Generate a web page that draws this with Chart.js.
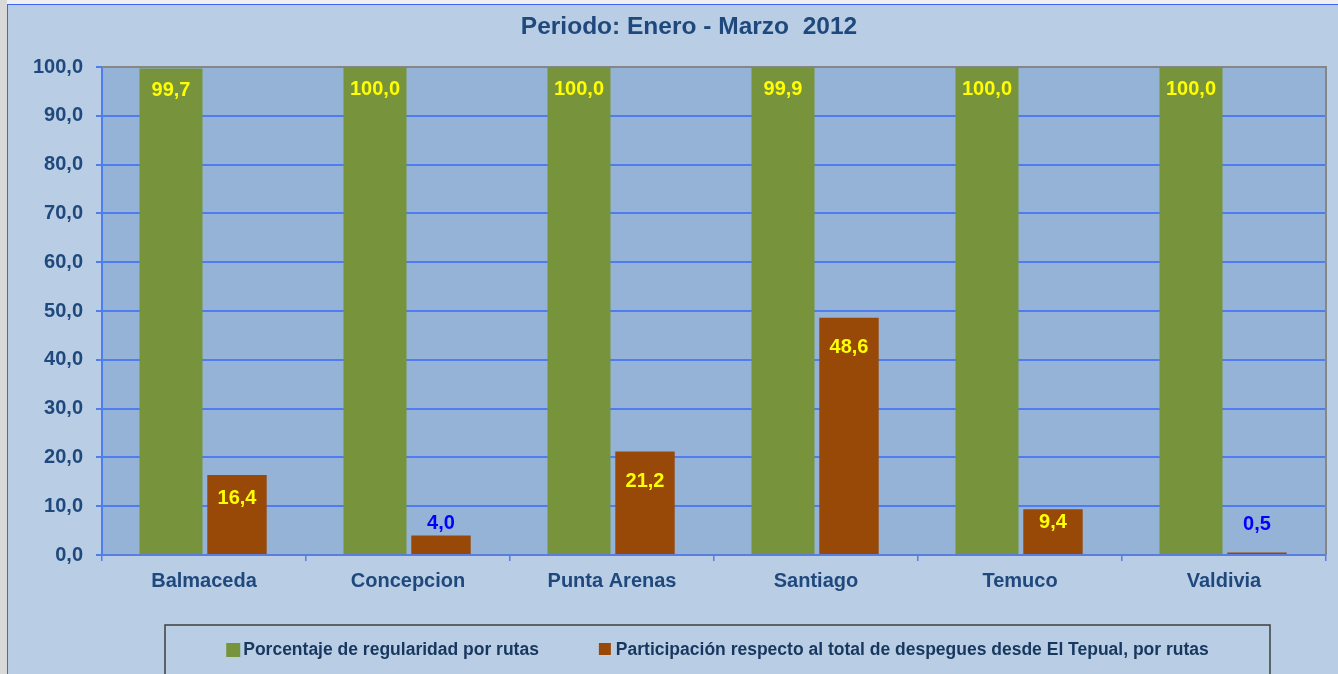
<!DOCTYPE html>
<html>
<head>
<meta charset="utf-8">
<script src="https://cdn.jsdelivr.net/npm/chart.js@4.4.1/dist/chart.umd.min.js"></script>
<style>
  html, body { margin: 0; padding: 0; width: 1338px; height: 674px; overflow: hidden; background: #F0F0F0; }
  #strip { position: absolute; left: 0; top: 0; width: 7px; height: 674px; background: #D9D9D9; }
  #frame { position: absolute; left: 7px; top: 4px; width: 1400px; height: 720px; background: #B9CDE5;
           border-top: 1px solid #3F63F2; border-left: 1px solid #3F63F2; }
  #c { position: absolute; left: 0; top: 0; }
</style>
</head>
<body>
<div id="strip"></div>
<div id="frame"><canvas id="c" width="1330" height="669"></canvas></div>
<script>
const titleText = 'Periodo: Enero - Marzo  2012';
const categories = ['Balmaceda', 'Concepcion', 'Punta Arenas', 'Santiago', 'Temuco', 'Valdivia'];
const seriesNames = ['Porcentaje de regularidad por rutas', 'Participación respecto al total de despegues desde El Tepual, por rutas'];
const regularidad = [99.7, 100.0, 100.0, 99.9, 100.0, 100.0];
const participacion = [16.4, 4.0, 21.2, 48.6, 9.4, 0.5];
const yTickLabels = ['0,0', '10,0', '20,0', '30,0', '40,0', '50,0', '60,0', '70,0', '80,0', '90,0', '100,0'];

const FONT = '"Liberation Sans", Arial, sans-serif';
const GREEN = '#77933C', ORANGE = '#984807';
const TEXT = '#1F497D';
const GRID = '#4F7CEE';

function fmt(v) { return v.toFixed(1).replace('.', ','); }

const framePlugin = {
  id: 'framePlugin',
  beforeDraw(chart) {
    const { ctx, chartArea: a } = chart;
    ctx.save();
    ctx.fillStyle = '#95B3D7';
    ctx.fillRect(a.left, a.top, a.right - a.left, a.bottom - a.top);
    ctx.restore();
  },
  beforeDatasetsDraw(chart) {
    const { ctx, chartArea: a } = chart;
    ctx.save();
    ctx.strokeStyle = '#868686';
    ctx.lineWidth = 2;
    ctx.beginPath();
    ctx.moveTo(a.left, a.top);
    ctx.lineTo(a.right, a.top);
    ctx.lineTo(a.right, a.bottom);
    ctx.stroke();
    ctx.restore();
  },
  afterDraw(chart) {
    const ctx = chart.ctx;
    ctx.save();
    // Title
    ctx.fillStyle = TEXT;
    ctx.font = 'bold 24.5px ' + FONT;
    ctx.textAlign = 'center';
    ctx.textBaseline = 'middle';
    ctx.fillText(titleText, 681, 22);
    // Legend box
    const bx = 157, by = 620, bw = 1105, bh = 60;
    ctx.strokeStyle = '#3F3F3F';
    ctx.lineWidth = 1.5;
    ctx.strokeRect(bx, by, bw, bh);
    ctx.font = 'bold 17.5px ' + FONT;
    ctx.textBaseline = 'alphabetic';
    ctx.textAlign = 'left';
    const colors = [GREEN, ORANGE];
    const sq = 14, gap = 3, spacing = 60;
    const widths = seriesNames.map(s => ctx.measureText(s).width);
    const total = sq + gap + widths[0] + spacing + sq + gap + widths[1];
    let x = bx + bw / 2 - total / 2;
    const baseline = 650;
    seriesNames.forEach((name, i) => {
      ctx.fillStyle = colors[i];
      ctx.fillRect(x, baseline - 12, sq - (i ? 2 : 0), sq - (i ? 2 : 0));
      x += sq + gap;
      ctx.fillStyle = '#17375E';
      ctx.fillText(name, x, baseline);
      x += widths[i] + spacing;
    });
    ctx.restore();
  }
};

const labelPlugin = {
  id: 'labelPlugin',
  afterDatasetsDraw(chart) {
    const ctx = chart.ctx;
    const yScale = chart.scales.y;
    ctx.save();
    ctx.font = 'bold 20px ' + FONT;
    ctx.textAlign = 'center';
    ctx.textBaseline = 'middle';
    chart.data.datasets.forEach((ds, di) => {
      const meta = chart.getDatasetMeta(di);
      meta.data.forEach((el, i) => {
        const v = ds.data[i];
        const h = el.base - el.y;
        let y, color;
        if (di === 0) {
          y = el.y + 22; color = '#FFFF00';
        } else if (v < 5) {
          y = yScale.getPixelForValue(Math.max(v, 3.8)) - 12; color = '#0000FF';
        } else {
          y = el.y + Math.min(30, h * 0.3); color = '#FFFF00';
        }
        ctx.fillStyle = color;
        ctx.fillText(fmt(v), el.x, y);
      });
    });
    ctx.restore();
  }
};

new Chart(document.getElementById('c'), {
  type: 'bar',
  data: {
    labels: categories,
    datasets: [
      { label: seriesNames[0], data: regularidad, backgroundColor: GREEN, categoryPercentage: 0.647, barPercentage: 0.955 },
      { label: seriesNames[1], data: participacion, backgroundColor: ORANGE, categoryPercentage: 0.647, barPercentage: 0.9 }
    ]
  },
  options: {
    responsive: false,
    animation: false,
    devicePixelRatio: 1,
    layout: { padding: { top: 62, right: 12, left: 0, bottom: 0 } },
    plugins: { legend: { display: false }, title: { display: false }, tooltip: { enabled: false } },
    scales: {
      x: {
        afterFit(s) { s.height = 119; },
        border: { display: true, color: '#5B7DE0', width: 2 },
        grid: { display: true, drawOnChartArea: false, drawTicks: true, tickLength: 6, color: GRID, lineWidth: 1.5 },
        ticks: { color: TEXT, font: { family: FONT, size: 20, weight: 'bold' }, padding: 8, maxRotation: 0 }
      },
      y: {
        min: 0, max: 100,
        afterFit(s) { s.width = 94; },
        border: { display: true, color: GRID, width: 2 },
        grid: { color: GRID, lineWidth: 2, tickLength: 6, drawTicks: true },
        ticks: {
          stepSize: 10, padding: 13, color: TEXT,
          font: { family: FONT, size: 20, weight: 'bold' },
          callback: (v, i) => yTickLabels[i]
        }
      }
    }
  },
  plugins: [framePlugin, labelPlugin]
});
</script>
</body>
</html>
